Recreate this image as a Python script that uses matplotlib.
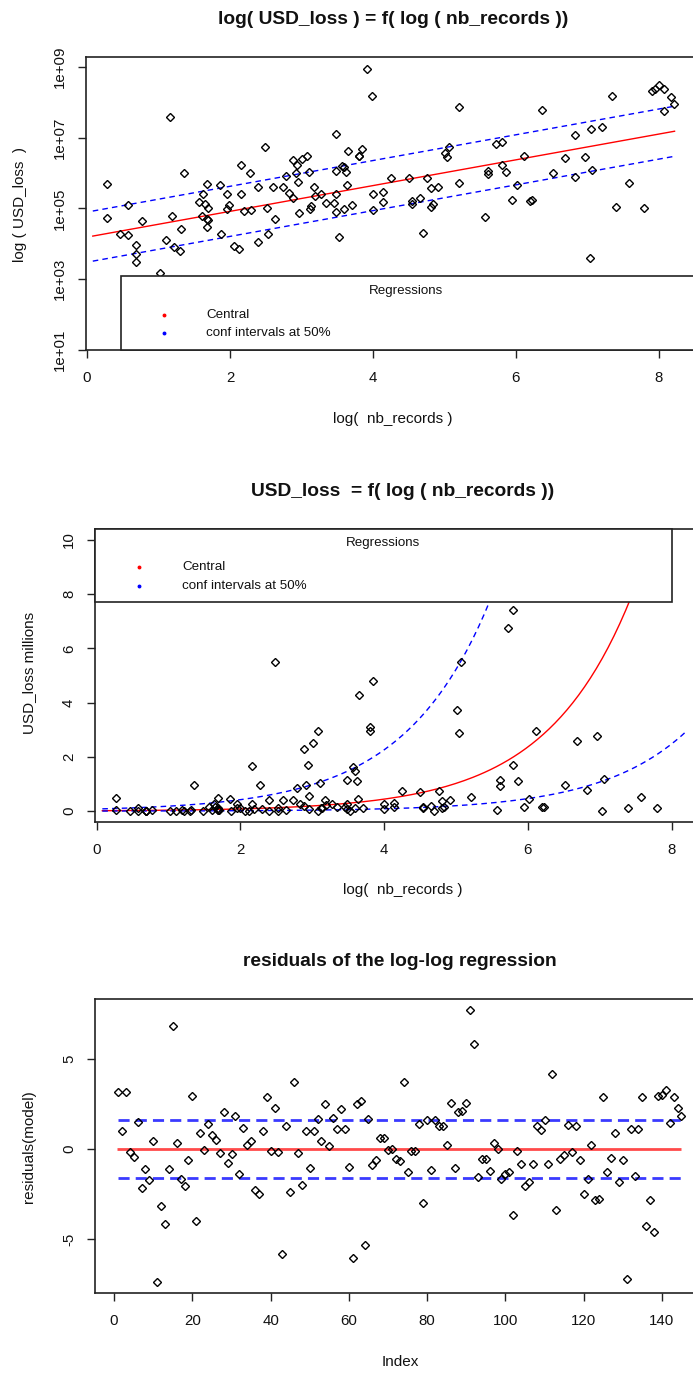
import numpy as np
import matplotlib.pyplot as plt
from matplotlib.patches import Rectangle

plt.rcParams['font.family'] = ['Liberation Sans', 'DejaVu Sans']
plt.rcParams['axes.unicode_minus'] = False

# log(nb_records) and log10(USD_loss)
log_nb_records = [
    0.275, 0.275, 0.578, 0.466, 0.578, 0.685, 0.685, 0.685, 0.765, 1.02, 1.10, 1.156,
    1.193, 1.221, 1.296, 1.31, 1.357, 1.56, 1.627, 1.65, 1.683, 1.687, 1.604, 1.683,
    1.697, 1.683, 1.856, 1.87, 1.958, 1.99, 1.953, 2.06, 2.126, 2.158, 2.158, 2.196,
    2.275, 2.298, 2.396, 2.396, 2.485, 2.518, 2.527, 2.597, 2.634, 2.737,
    2.783, 2.83, 2.886, 2.886, 2.94, 2.92, 2.95, 3.007, 3.08, 3.11, 2.96, 3.12,
    3.14, 3.18, 3.19, 3.27, 3.35, 3.455, 3.48, 3.48, 3.48, 3.48, 3.53, 3.567,
    3.60, 3.62, 3.60, 3.64, 3.65, 3.706, 3.81, 3.80, 3.84, 3.92, 3.986, 4.005,
    4.005, 4.14, 4.14, 4.25, 4.50, 4.54, 4.54, 4.657, 4.70, 4.76, 4.81, 4.835,
    4.81, 4.91, 5.01, 5.04, 5.07, 5.21, 5.21, 5.57, 5.61, 5.61,
    5.72, 5.80, 5.80, 5.86, 5.94, 6.02, 6.11, 6.20, 6.23, 6.37, 6.52, 6.69,
    6.82, 6.82, 6.96, 7.03, 7.05, 7.06, 7.20, 7.35, 7.40, 7.58, 7.79, 7.91,
    7.95, 8.00, 8.07, 8.17, 8.07, 8.21, 1.48, 3.08,
]
log10_usd_loss = [
    5.68, 4.72, 5.09, 4.27, 4.24, 3.98, 3.70, 3.49, 4.65, 3.19, 4.12, 7.59,
    4.78, 3.91, 3.81, 4.42, 5.99, 5.17, 5.40, 5.14, 5.70, 5.02, 4.78, 4.71,
    4.66, 4.47, 5.65, 4.29, 5.40, 5.10, 4.99, 3.94, 3.86, 6.22, 5.41, 4.94,
    5.99, 4.96, 5.62, 4.04, 6.74, 5.02, 4.28, 5.61, 4.69, 5.61,
    5.93, 5.44, 6.36, 5.29, 6.23, 5.99, 5.76, 6.40, 6.47, 6.02, 4.86, 4.99,
    5.06, 5.61, 5.35, 5.42, 5.16, 5.16, 5.40, 4.90, 6.06, 7.11, 4.18, 6.21,
    6.17, 6.04, 4.99, 5.65, 6.63, 5.09, 6.49, 6.47, 6.68, 8.95, 8.17, 5.40,
    4.97, 5.46, 5.17, 5.87, 5.85, 5.22, 5.12, 5.29, 4.31, 5.87, 5.57, 5.14,
    5.03, 5.61, 6.57, 6.46, 6.74, 7.86, 5.71, 4.75, 6.06, 5.97,
    6.83, 6.87, 6.23, 6.04, 5.23, 5.65, 6.47, 5.20, 5.23, 7.77, 5.99, 6.415,
    7.08, 5.89, 6.44, 3.60, 7.25, 6.08, 7.30, 8.18, 5.03, 5.72, 5.02, 8.33,
    8.37, 8.50, 8.37, 8.15, 7.75, 7.94, 2.95, 2.95,
]

# residuals(model), in index order
residuals = [
    3.15, 0.98, 3.15, -0.17, -0.43, 1.52, -2.19, -1.11, -1.72, 0.44,
    -7.37, -3.19, -4.15, -1.11, 6.83, 0.31, -1.69, -2.07, -0.63, 2.93,
    -4.0, 0.91, -0.04, 1.39, 0.78, 0.5, -0.24, 2.06, -0.76, -0.3,
    1.81, -1.37, 1.19, 0.24, 0.43, -2.3, -2.5, 1.0, 2.87, -0.11,
    2.26, -0.19, -5.81, 1.28, -2.39, 3.74, -0.24, -1.98, 1.02, -1.04,
    0.98, 1.67, 0.44, 2.52, 0.19, 1.74, 1.09, 2.2, 1.11, -0.98,
    -6.04, 2.52, 2.69, -5.35, 1.67, -0.91, -0.63, 0.59, 0.59, -0.04,
    0.02, -0.56, -0.65, 3.74, -1.3, -0.09, -0.09, 1.41, -2.98, 1.59,
    -1.17, 1.59, 1.28, 1.28, 0.24, 2.54, -1.04, 2.07, 2.13, 2.54,
    7.72, 5.83, -1.56, -0.56, -0.56, -1.22, 0.31, 0.0, -1.65, -1.39,
    -1.3, -3.67, -0.11, -0.83, -2.06, -1.85, -0.83, 1.26, 1.04, 1.59,
    -0.83, 4.15, -3.41, -0.56, -0.33, 1.31, -0.17, 1.26, -0.63, -2.52,
    -1.65, 0.2, -2.83, -2.8, 2.87, -1.3, -0.48, 0.91, -1.85, -0.63,
    -7.24, 1.11, -1.5, 1.11, 2.87, -4.26, -2.85, -4.61, 2.93, 3.02,
    3.3, 1.46, 2.87, 2.26, 1.81,
]

# regression (log10 units) and the 50% band (ln units)
fit_intercept = 4.19
fit_slope = 0.364
band_ln = 1.63
fit_range = [0.08, 8.22]

x = np.array(log_nb_records)
usd = 10 ** np.array(log10_usd_loss)
res = np.array(residuals)
idx = np.arange(1, len(res) + 1)

gx = np.linspace(fit_range[0], fit_range[1], 200)
central = 10 ** (fit_intercept + fit_slope * gx)
upper = central * np.exp(band_ln)
lower = central * np.exp(-band_ln)

W, H = 693, 1374
fig = plt.figure(figsize=(W / 100, H / 100), dpi=100)


def box(l, t, r, b):
    return [l / W, 1 - b / H, (r - l) / W, (b - t) / H]


def ftext(px, py, s, **kw):
    fig.text(px / W, 1 - py / H, s, ha='center', va='center', color='#111', **kw)


def r_style(ax):
    for s in ax.spines.values():
        s.set_linewidth(1.2)
        s.set_color('#222')
    ax.tick_params(direction='out', length=5.5, width=1.0, labelsize=10.8,
                   colors='#222', labelcolor='#111')
    ax.tick_params(axis='x', pad=9.5)
    ax.tick_params(axis='y', pad=8.5, labelrotation=90)
    for lab in ax.get_yticklabels():
        lab.set_va('center')


def r_legend(ax, l, t, r, b, title_x, dot_x, text_x, ys):
    ax.add_patch(Rectangle((l / W, 1 - b / H), (r - l) / W, (b - t) / H,
                           transform=fig.transFigure, facecolor='white',
                           edgecolor='#222', lw=1.2, zorder=5, clip_on=False))
    ftext(title_x, ys[0], 'Regressions', fontsize=9.6)
    for col, lab, yy in zip(['red', 'blue'], ['Central', 'conf intervals at 50%'], ys[1:]):
        ax.plot([dot_x / W], [1 - yy / H], 'o', ms=1.8, color=col,
                transform=fig.transFigure, zorder=6, clip_on=False)
        fig.text(text_x / W, 1 - yy / H, lab, ha='left', va='center',
                 fontsize=9.6, color='#111')


mk = dict(marker='D', ms=4.1, mfc='none', mec='black', mew=1.0, ls='none')

# ---- panel 1: log-log
ax1 = fig.add_axes(box(86, 57, 696, 350))
ax1.plot(x, usd, zorder=3, **mk)
ax1.plot(gx, central, color='red', lw=1.0, zorder=2)
ax1.plot(gx, upper, color='blue', lw=1.0, dashes=(4, 3), zorder=2)
ax1.plot(gx, lower, color='blue', lw=1.0, dashes=(4, 3), zorder=2)
ax1.set_yscale('log')
ax1.set_xlim(-0.015, 8.52)
ax1.set_ylim(10 ** 1, 10 ** 9.28)
ax1.set_xticks([0, 2, 4, 6, 8])
ax1.set_yticks([1e1, 1e3, 1e5, 1e7, 1e9])
ax1.set_yticklabels(['1e+01', '1e+03', '1e+05', '1e+07', '1e+09'])
ax1.minorticks_off()
r_style(ax1)
r_legend(ax1, 121, 276, 720, 350, 406, 164, 206, [291, 315, 333])
ftext(393, 20, 'log( USD_loss ) = f( log ( nb_records ))', fontsize=13.8, fontweight='bold')
ftext(393, 419, 'log(  nb_records )', fontsize=11)
ftext(20, 204, 'log ( USD_loss  )', fontsize=11, rotation=90)

# ---- panel 2: linear loss
ax2 = fig.add_axes(box(95.5, 529, 709, 822))
ax2.plot(x, usd / 1e6, zorder=3, **mk)
ax2.plot(gx, central / 1e6, color='red', lw=1.0, zorder=2)
ax2.plot(gx, upper / 1e6, color='blue', lw=1.0, dashes=(4, 3), zorder=2)
ax2.plot(gx, lower / 1e6, color='blue', lw=1.0, dashes=(4, 3), zorder=2)
ax2.set_xlim(-0.015, 8.52)
ax2.set_ylim(-0.4, 10.4)
ax2.set_xticks([0, 2, 4, 6, 8])
ax2.set_yticks([0, 2, 4, 6, 8, 10])
r_style(ax2)
r_legend(ax2, 95.5, 529, 672, 602, 383, 139, 182, [543, 567, 586])
ftext(403, 492, 'USD_loss  = f( log ( nb_records ))', fontsize=13.8, fontweight='bold')
ftext(403, 890, 'log(  nb_records )', fontsize=11)
ftext(29, 673, 'USD_loss millions', fontsize=11, rotation=90)

# ---- panel 3: residuals
ax3 = fig.add_axes(box(95.5, 999, 704, 1293))
ax3.plot(idx, res, zorder=3, **mk)
ax3.hlines(0, idx[0] - 0.2, idx[-1], color='#ff4a4a', lw=2.0, zorder=2)
ax3.hlines([band_ln, -band_ln], idx[0], idx[-1], color='#3a3aff', lw=2.0,
           linestyles=(0, (4, 2.2)), zorder=2)
ax3.set_xlim(-4.76, 150.76)
ax3.set_ylim(-8.0, 8.33)
ax3.set_xticks(np.arange(0, 141, 20))
ax3.set_yticks([-5, 0, 5])
r_style(ax3)
ftext(400, 962, 'residuals of the log-log regression', fontsize=13.8, fontweight='bold')
ftext(400, 1362, 'Index', fontsize=11)
ftext(29, 1147, 'residuals(model)', fontsize=11, rotation=90)

fig.savefig('out.png', dpi=100)
